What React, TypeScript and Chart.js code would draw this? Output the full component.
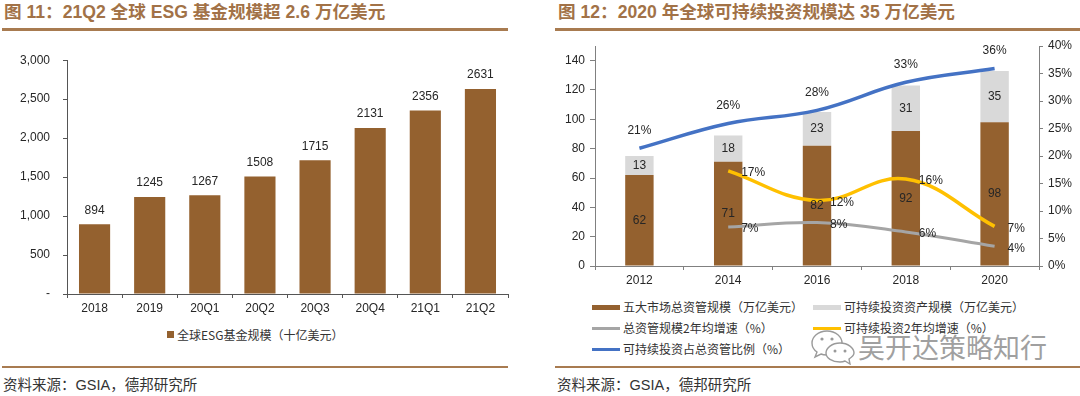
import React, { useEffect, useRef } from 'react';
import { Chart, registerables } from 'chart.js';

Chart.register(...registerables);

// ---------- Data: figure 11 ----------
const ESG_CATEGORIES = ['2018', '2019', '20Q1', '20Q2', '20Q3', '20Q4', '21Q1', '21Q2'];
const ESG_FUND_SIZE = [894, 1245, 1267, 1508, 1715, 2131, 2356, 2631];
const ESG_Y_TICKS = [0, 500, 1000, 1500, 2000, 2500, 3000];

// ---------- Data: figure 12 ----------
const YEARS = ['2012', '2014', '2016', '2018', '2020'];
const TOTAL_AUM = [62, 71, 82, 92, 98];
const SUSTAINABLE_AUM = [13, 18, 23, 31, 35];
const AUM_GROWTH = [null, 7.1, 7.9, 6.2, 3.6];
const SUSTAINABLE_GROWTH = [null, 17.3, 11.9, 15.8, 7.2];
const SUSTAINABLE_SHARE = [21.4, 25.9, 28.3, 33.4, 35.9];
const LEFT_TICKS = [0, 20, 40, 60, 80, 100, 120, 140];
const RIGHT_TICKS = [0, 5, 10, 15, 20, 25, 30, 35, 40];

const NUM_FONT = "'Liberation Sans', Arial, sans-serif";
const CJK_FONT = "'Noto Sans CJK SC', sans-serif";
const BROWN = '#94612F';
const LIGHT_GRAY = '#D9D9D9';
const LINE_GRAY = '#A5A5A5';
const YELLOW = '#FFC000';
const BLUE = '#4472C4';
const TEXT = '#262626';
const TITLE_COLOR = '#A27247';
const RULE_COLOR = '#A87B50';

function EsgChart() {
  const ref = useRef<HTMLCanvasElement>(null);
  useEffect(() => {
    const labels = {
      id: 'esgLabels',
      afterDatasetsDraw(chart: any) {
        const ctx = chart.ctx;
        const meta = chart.getDatasetMeta(0);
        ctx.save();
        ctx.font = `12px ${NUM_FONT}`;
        ctx.fillStyle = TEXT;
        ctx.textAlign = 'center';
        ctx.textBaseline = 'middle';
        meta.data.forEach((el: any, i: number) => {
          ctx.fillText(String(ESG_FUND_SIZE[i]), el.x, el.y - 14);
        });
        ctx.restore();
      },
    };
    const chart = new Chart(ref.current as HTMLCanvasElement, {
      type: 'bar',
      data: {
        labels: ESG_CATEGORIES,
        datasets: [
          {
            label: '全球ESG基金规模（十亿美元）',
            data: ESG_FUND_SIZE,
            backgroundColor: BROWN,
            barPercentage: 0.565,
            categoryPercentage: 1,
          },
        ],
      },
      options: {
        animation: false,
        responsive: false,
        maintainAspectRatio: false,
        layout: { padding: { top: 17, right: 22, left: 0, bottom: 0 } },
        plugins: { legend: { display: false }, tooltip: { enabled: false } },
        scales: {
          x: {
            grid: { display: true, drawOnChartArea: false, drawTicks: true, tickLength: 4, tickColor: '#555', offset: true },
            border: { display: true, color: '#555' },
            ticks: { font: { family: NUM_FONT, size: 12 }, color: TEXT, padding: 3, maxRotation: 0, autoSkip: false },
            afterFit: (s: any) => { s.height = 26; },
          },
          y: {
            min: 0,
            max: 3000,
            afterBuildTicks: (s: any) => { s.ticks = ESG_Y_TICKS.map((v) => ({ value: v })); },
            grid: { display: true, drawOnChartArea: false, drawTicks: true, tickLength: 4, tickColor: '#555' },
            border: { display: true, color: '#555' },
            ticks: {
              font: { family: NUM_FONT, size: 12 },
              color: TEXT,
              padding: 13,
              callback: (v: any) => (Number(v) === 0 ? '-' : Number(v).toLocaleString('en-US')),
            },
            afterFit: (s: any) => { s.width = 67; },
          },
        },
      },
      plugins: [labels],
    } as any);
    return () => chart.destroy();
  }, []);
  return (
    <canvas
      ref={ref}
      width={530}
      height={280}
      style={{ position: 'absolute', left: 0, top: 40, width: 530, height: 280 }}
    />
  );
}

function SustainChart() {
  const ref = useRef<HTMLCanvasElement>(null);
  useEffect(() => {
    const labels = {
      id: 'sustainLabels',
      afterDatasetsDraw(chart: any) {
        const ctx = chart.ctx;
        ctx.save();
        ctx.font = `12px ${NUM_FONT}`;
        ctx.fillStyle = TEXT;
        chart.data.datasets.forEach((ds: any, di: number) => {
          const meta = chart.getDatasetMeta(di);
          meta.data.forEach((el: any, i: number) => {
            const v = ds.data[i];
            if (v == null) return;
            if (ds.type === 'bar') {
              ctx.textAlign = 'center';
              ctx.textBaseline = 'middle';
              ctx.fillText(String(Math.round(v)), el.x, (el.y + el.base) / 2);
            } else if (ds.labelPos === 'top') {
              ctx.textAlign = 'center';
              ctx.textBaseline = 'middle';
              ctx.fillText(Math.round(v) + '%', el.x, el.y - 18);
            } else {
              ctx.textAlign = 'left';
              ctx.textBaseline = 'middle';
              ctx.fillText(Math.round(v) + '%', el.x + 13, el.y + 2);
            }
          });
        });
        ctx.restore();
      },
    };
    const chart = new Chart(ref.current as HTMLCanvasElement, {
      type: 'bar',
      data: {
        labels: YEARS,
        datasets: [
          {
            type: 'bar',
            label: '五大市场总资管规模（万亿美元）',
            data: TOTAL_AUM,
            backgroundColor: BROWN,
            yAxisID: 'y',
            order: 1,
            barPercentage: 0.32,
            categoryPercentage: 1,
          },
          {
            type: 'bar',
            label: '可持续投资资产规模（万亿美元）',
            data: SUSTAINABLE_AUM,
            backgroundColor: LIGHT_GRAY,
            yAxisID: 'y',
            order: 1,
            barPercentage: 0.32,
            categoryPercentage: 1,
          },
          {
            type: 'line',
            label: '总资管规模2年均增速（%）',
            data: AUM_GROWTH,
            borderColor: LINE_GRAY,
            borderWidth: 3,
            pointRadius: 0,
            tension: 0.4,
            yAxisID: 'y1',
            order: 0,
            labelPos: 'right',
          },
          {
            type: 'line',
            label: '可持续投资2年均增速（%）',
            data: SUSTAINABLE_GROWTH,
            borderColor: YELLOW,
            borderWidth: 3.5,
            pointRadius: 0,
            tension: 0.4,
            yAxisID: 'y1',
            order: 0,
            labelPos: 'right',
          },
          {
            type: 'line',
            label: '可持续投资占总资管比例（%）',
            data: SUSTAINABLE_SHARE,
            borderColor: BLUE,
            borderWidth: 3.5,
            pointRadius: 0,
            tension: 0.4,
            yAxisID: 'y1',
            order: 0,
            labelPos: 'top',
          },
        ],
      },
      options: {
        animation: false,
        responsive: false,
        maintainAspectRatio: false,
        layout: { padding: { top: 16, right: 0, left: 0, bottom: 0 } },
        plugins: { legend: { display: false }, tooltip: { enabled: false } },
        scales: {
          x: {
            stacked: true,
            grid: { display: true, drawOnChartArea: false, drawTicks: true, tickLength: 4, tickColor: '#808080', offset: true },
            border: { display: true, color: '#808080' },
            ticks: { font: { family: NUM_FONT, size: 12 }, color: TEXT, padding: 3, maxRotation: 0, autoSkip: false },
            afterFit: (s: any) => { s.height = 26; },
          },
          y: {
            stacked: true,
            position: 'left',
            min: 0,
            max: 150,
            afterBuildTicks: (s: any) => { s.ticks = LEFT_TICKS.map((v) => ({ value: v })); },
            grid: { display: true, drawOnChartArea: false, drawTicks: true, tickLength: 5, tickColor: '#808080' },
            border: { display: true, color: '#808080' },
            ticks: { font: { family: NUM_FONT, size: 12 }, color: TEXT, padding: 5 },
            afterFit: (s: any) => { s.width = 40; },
          },
          y1: {
            position: 'right',
            min: 0,
            max: 40,
            afterBuildTicks: (s: any) => { s.ticks = RIGHT_TICKS.map((v) => ({ value: v })); },
            grid: { display: true, drawOnChartArea: false, drawTicks: true, tickLength: 4, tickColor: '#808080' },
            border: { display: true, color: '#808080' },
            ticks: { font: { family: NUM_FONT, size: 12 }, color: TEXT, padding: 5, callback: (v: any) => v + '%' },
            afterFit: (s: any) => { s.width = 41; },
          },
        },
      },
      plugins: [labels],
    } as any);
    return () => chart.destroy();
  }, []);
  return (
    <canvas
      ref={ref}
      width={525}
      height={262}
      style={{ position: 'absolute', left: 555, top: 30, width: 525, height: 262 }}
    />
  );
}

const abs = (o: React.CSSProperties): React.CSSProperties => ({ position: 'absolute', ...o });

function LegendItem({ x, y, color, kind, text }: { x: number; y: number; color: string; kind: 'bar' | 'line'; text: string }) {
  const h = kind === 'bar' ? 5 : 3;
  return (
    <>
      <div style={abs({ left: x, top: y - h / 2, width: 28, height: h, background: color })} />
      <div
        style={abs({
          left: x + 31,
          top: y - 9,
          height: 18,
          lineHeight: '18px',
          fontSize: 12,
          fontFamily: CJK_FONT,
          color: '#333',
          whiteSpace: 'nowrap',
        })}
      >
        {text}
      </div>
    </>
  );
}

function WeChatIcon() {
  return (
    <svg width={46} height={36} viewBox="0 0 46 36" style={abs({ left: 810, top: 329 })}>
      <path d="M17 2 C8 2 2 8 2 14 C2 18 4 21 7 23 L5 28 L11 25 C13 26 15 26 17 26 C26 26 32 20 32 14 C32 8 26 2 17 2 Z" fill="#fff" stroke="#9a9a9a" strokeWidth={1.4} />
      <circle cx={12} cy={10} r={1.6} fill="#9a9a9a" />
      <circle cx={22} cy={10} r={1.6} fill="#9a9a9a" />
      <path d="M30 14 C22 14 16 19 16 24 C16 29 22 33 30 33 C32 33 33 33 35 32 L40 35 L39 30 C42 28 44 26 44 24 C44 19 38 14 30 14 Z" fill="#fff" stroke="#9a9a9a" strokeWidth={1.4} />
      <circle cx={25} cy={22} r={1.5} fill="#9a9a9a" />
      <circle cx={35} cy={22} r={1.5} fill="#9a9a9a" />
    </svg>
  );
}

export default function App() {
  const titleStyle: React.CSSProperties = {
    fontSize: 17.6,
    fontWeight: 'bold',
    color: TITLE_COLOR,
    fontFamily: `${NUM_FONT.replace(', sans-serif', '')}, 'Noto Sans CJK SC', sans-serif`,
    whiteSpace: 'nowrap',
    lineHeight: '20px',
  };
  const sourceStyle: React.CSSProperties = {
    fontSize: 14.5,
    color: '#333',
    fontFamily: `'Liberation Sans', 'Noto Sans CJK SC', sans-serif`,
    whiteSpace: 'nowrap',
    lineHeight: '18px',
  };
  return (
    <div style={{ position: 'fixed', left: 0, top: 0, width: 1080, height: 396, background: '#fff', overflow: 'hidden' }}>
      {/* Left panel */}
      <div style={abs({ left: 4, top: 2, ...titleStyle })}>图 11：21Q2 全球 ESG 基金规模超 2.6 万亿美元</div>
      <div style={abs({ left: 2, top: 28, width: 506, height: 3, background: RULE_COLOR })} />
      <EsgChart />
      <div style={abs({ left: 167, top: 331, width: 7, height: 7, background: BROWN })} />
      <div style={abs({ left: 177, top: 326, height: 18, lineHeight: '18px', fontSize: 12, fontFamily: CJK_FONT, color: '#333', whiteSpace: 'nowrap' })}>
        全球ESG基金规模（十亿美元）
      </div>
      <div style={abs({ left: 2, top: 366, width: 506, height: 2, background: RULE_COLOR })} />
      <div style={abs({ left: 3, top: 376, ...sourceStyle })}>资料来源：GSIA，德邦研究所</div>

      {/* Right panel */}
      <div style={abs({ left: 558, top: 2, ...titleStyle })}>图 12：2020 年全球可持续投资规模达 35 万亿美元</div>
      <div style={abs({ left: 555, top: 28, width: 525, height: 3, background: RULE_COLOR })} />
      <SustainChart />
      <LegendItem x={592} y={307} color={BROWN} kind="bar" text="五大市场总资管规模（万亿美元）" />
      <LegendItem x={813} y={307} color={LIGHT_GRAY} kind="bar" text="可持续投资资产规模（万亿美元）" />
      <LegendItem x={592} y={328} color={LINE_GRAY} kind="line" text="总资管规模2年均增速（%）" />
      <LegendItem x={813} y={328} color={YELLOW} kind="line" text="可持续投资2年均增速（%）" />
      <LegendItem x={592} y={349} color={BLUE} kind="line" text="可持续投资占总资管比例（%）" />
      <WeChatIcon />
      <div
        style={abs({
          left: 858,
          top: 331,
          height: 32,
          lineHeight: '32px',
          fontSize: 27,
          fontFamily: CJK_FONT,
          color: '#a0a0a0',
          whiteSpace: 'nowrap',
          textShadow: '0 0 2px #fff',
        })}
      >
        吴开达策略知行
      </div>
      <div style={abs({ left: 555, top: 366, width: 525, height: 2, background: RULE_COLOR })} />
      <div style={abs({ left: 557, top: 376, ...sourceStyle })}>资料来源：GSIA，德邦研究所</div>
    </div>
  );
}
